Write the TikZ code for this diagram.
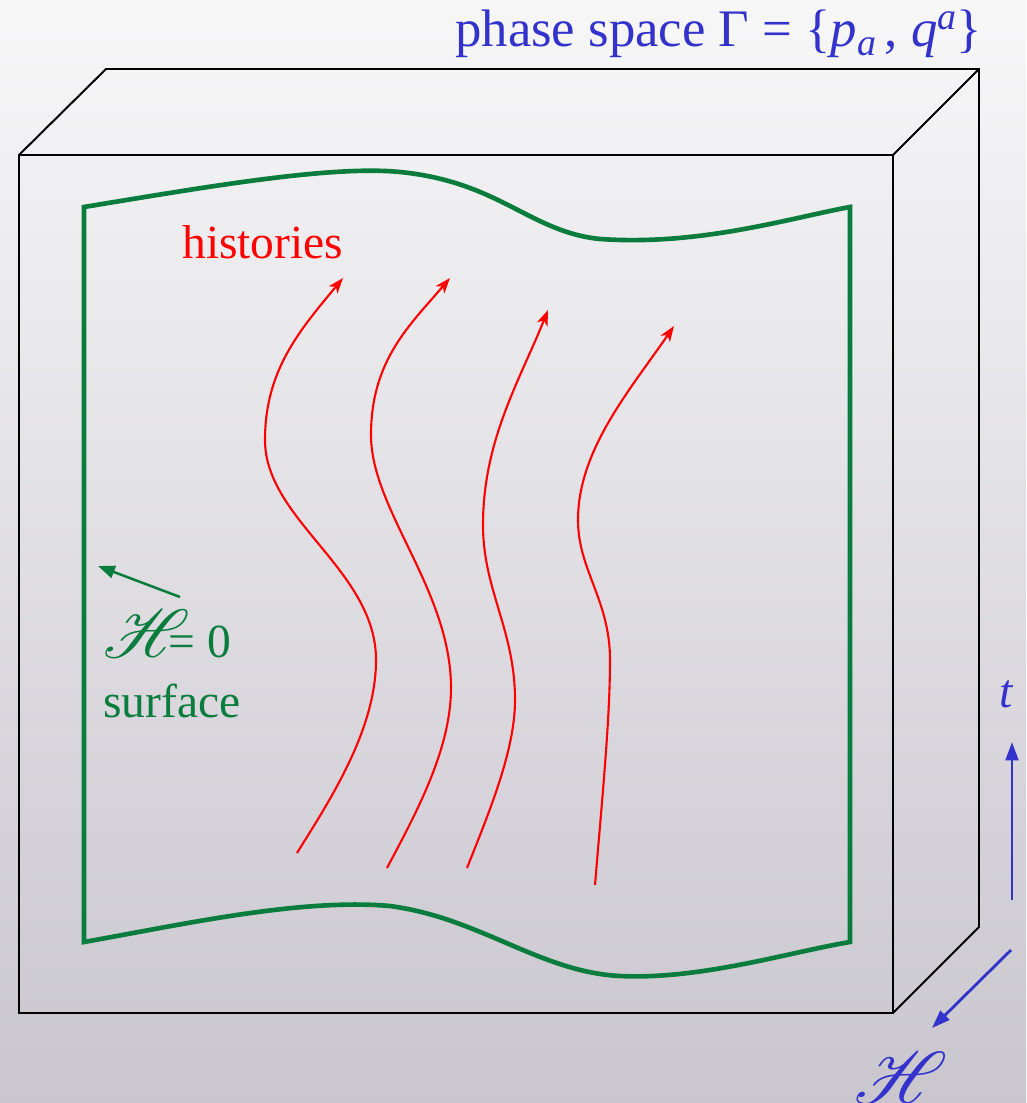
\documentclass[tikz,border=0pt]{standalone}
\usepackage{fontspec}
\setmainfont{Liberation Serif}
\usepackage{mathrsfs}
\usepackage{graphicx}
\usetikzlibrary{arrows.meta}
\definecolor{bgtop}{RGB}{247,247,248}
\definecolor{bgbot}{RGB}{201,198,206}
\definecolor{surfgreen}{RGB}{10,125,62}
\definecolor{labblue}{RGB}{51,51,204}
\definecolor{histred}{RGB}{255,0,0}
\newcommand{\bigH}[1]{{\fontsize{24.88}{30}\selectfont\scalebox{#1}{$\mathscr{H}$}}}
\newcommand{\smallidx}[2]{\raisebox{#1}{\fontsize{27}{30}\selectfont\textit{#2}}}
\tikzset{
  boxline/.style={black, line width=1.4pt, line join=miter},
  surfline/.style={surfgreen, line width=3.3pt},
  history/.style={histred, line width=1.5pt, -{Stealth[length=11pt,width=8pt,inset=3pt]}},
  bluearrow/.style={labblue, line width=2pt, -{Triangle[length=13pt,width=9pt]}},
  greenarrow/.style={surfgreen, line width=1.8pt, -{Triangle[length=12pt,width=9pt]}},
  lab/.style={inner sep=0pt, font=\fontsize{33.8}{40}\selectfont},
  titlelab/.style={inner sep=0pt, font=\fontsize{37.5}{44}\selectfont},
}
\begin{document}
\begin{tikzpicture}[x=0.025cm, y=-0.025cm]
\useasboundingbox (0,0) rectangle (1026,1103);
\shade[top color=bgtop, bottom color=bgbot] (0,0) rectangle (1026,1103);
% box corners
\coordinate (ftl) at (19,155);
\coordinate (ftr) at (893,155);
\coordinate (fbr) at (893,1013);
\coordinate (fbl) at (19,1013);
\coordinate (btl) at (106,69);
\coordinate (btr) at (979,69);
\coordinate (bbr) at (979,927);
\draw[boxline] (ftl) -- (ftr) -- (fbr) -- (fbl) -- cycle;
\draw[boxline] (ftl) -- (btl) -- (btr) -- (bbr) -- (fbr);
\draw[boxline] (ftr) -- (btr);
% surface
\coordinate (s1) at (84,207);
\coordinate (s2) at (850,207);
\coordinate (s3) at (850,942);
\coordinate (s4) at (84,942);
\draw[surfline, line join=miter] (s1) .. controls (200,188) and (330,165) .. (400,172)
  .. controls (500,182) and (530,232) .. (600,239)
  .. controls (700,246) and (790,218) .. (s2) -- (s3)
  .. controls (790,952) and (700,980) .. (620,976)
  .. controls (540,972) and (480,918) .. (390,906)
  .. controls (300,898) and (180,925) .. (s4) -- cycle;
% histories
\coordinate (a0) at (297,853); \coordinate (a1) at (376,660); \coordinate (a2) at (265,440); \coordinate (a3) at (343,278);
\draw[history] (a0) .. controls (330,800) and (376,730) .. (a1)
  .. controls (376,570) and (265,520) .. (a2)
  .. controls (265,370) and (300,330) .. (a3);
\coordinate (b0) at (387,868); \coordinate (b1) at (451,688); \coordinate (b2) at (371,435); \coordinate (b3) at (450,278);
\draw[history] (b0) .. controls (415,815) and (451,750) .. (b1)
  .. controls (451,590) and (371,510) .. (b2)
  .. controls (371,360) and (410,325) .. (b3);
\coordinate (c0) at (467,868); \coordinate (c1) at (515,700); \coordinate (c2) at (483,525); \coordinate (c3) at (548,310);
\draw[history] (c0) .. controls (490,810) and (515,750) .. (c1)
  .. controls (515,630) and (483,590) .. (c2)
  .. controls (483,440) and (520,380) .. (c3);
\coordinate (d0) at (595,885); \coordinate (d1) at (610,660); \coordinate (d2) at (578,520); \coordinate (d3) at (674,326);
\draw[history] (d0) .. controls (602,800) and (610,720) .. (d1)
  .. controls (610,600) and (578,570) .. (d2)
  .. controls (578,450) and (630,390) .. (d3);
% labels
\node[titlelab, text=labblue, anchor=base west] (title) at (455,47) {phase space Γ = \{\textit{p}\smallidx{-5.7pt}{a}\,, \textit{q}\smallidx{12.5pt}{a}\}};
\node[lab, text=histred, anchor=base west] (hist) at (182,258) {histories};
\node[lab, text=surfgreen, anchor=base west] (heq) at (103,657) {\bigH{1.95}\kern-15pt= 0};
\node[lab, text=surfgreen, anchor=base west] (surf) at (103,717) {surface};
\coordinate (ga0) at (180,597);
\coordinate (ga1) at (98,566);
\draw[greenarrow] (ga0) -- (ga1);
% axes
\node[lab, text=labblue, anchor=base] (tlab) at (1007,707) {\textit{t}};
\coordinate (t0) at (1012,900);
\coordinate (t1) at (1012,742);
\draw[bluearrow] (t0) -- (t1);
\coordinate (h0) at (1011,950);
\coordinate (h1) at (932,1028);
\draw[bluearrow] (h0) -- (h1);
\node[lab, text=labblue, anchor=base west] (hlab) at (854,1103) {\bigH{2.1}};
\end{tikzpicture}
\end{document}
